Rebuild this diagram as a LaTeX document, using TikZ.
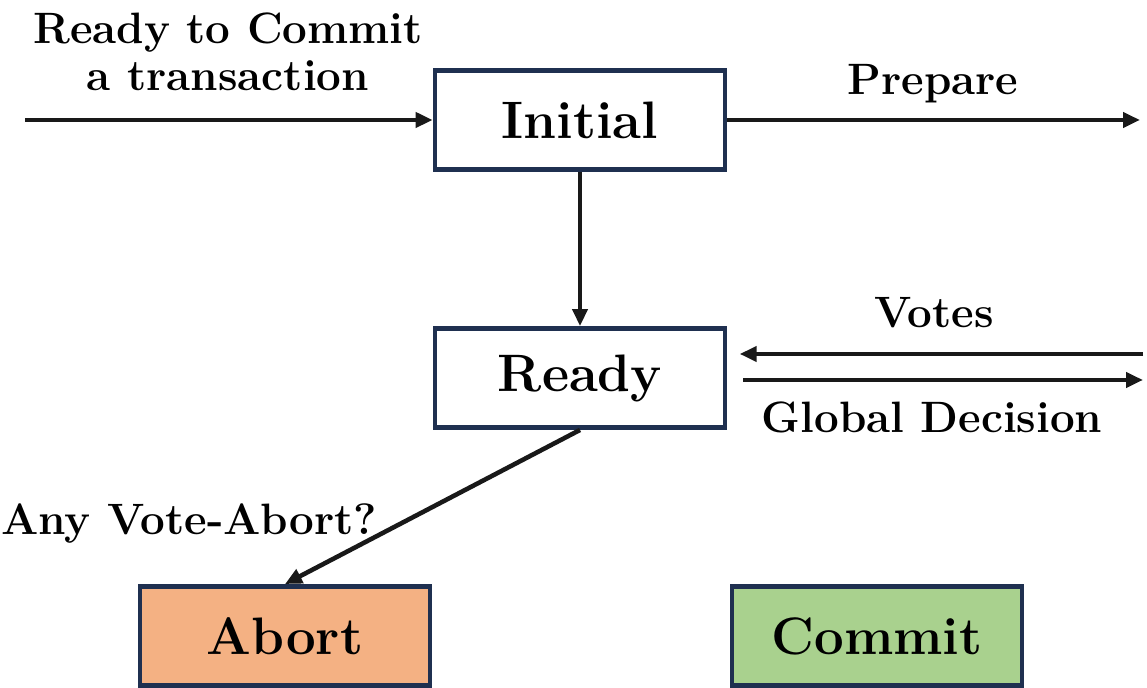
\documentclass[tikz,border=0pt]{standalone}
\usepackage{tikz}
\usetikzlibrary{arrows.meta,positioning}
\usepackage{xcolor}
\definecolor{boxline}{HTML}{1F3050}
\definecolor{abortfill}{HTML}{F4B183}
\definecolor{commitfill}{HTML}{A9D18E}

\begin{document}
\begin{tikzpicture}[x=0.02cm,y=-0.02cm,
    state/.style={draw=boxline,line width=2.8pt,minimum width=5.8cm,minimum height=1.98cm,
      font=\fontsize{30}{36}\selectfont\bfseries},
    lbl/.style={font=\fontsize{25}{29}\selectfont\bfseries},
    flow/.style={line width=2.6pt,draw=black!90,-{Triangle[length=0.34cm,width=0.3cm]}}]
  \useasboundingbox (0,0) rectangle (1147,688);
  \node[state] (init) at (580,120) {Initial};
  \node[state] (ready) at (580,378) {Ready};
  \node[state,fill=abortfill] (abort) at (285,636) {Abort};
  \node[state,fill=commitfill] (commit) at (877,636) {Commit};

  \coordinate (start) at (25,120);
  \coordinate (prep) at (1140,120);
  \coordinate (vin) at (1143,354);
  \coordinate (vout) at (1143,380);

  \draw[flow] (start) -- (init);
  \draw[flow] (init) -- (prep);
  \draw[flow] (init) -- (ready);
  \draw[flow] (vin) -- ([xshift=7]ready.east |- vin);
  \draw[flow] ([xshift=9]ready.east |- vout) -- (vout);
  \draw[flow] (ready.south) -- (abort.north);

  % labels
  \node[lbl,align=center] (rtc) at (228,52) {Ready to Commit\\[-2pt]a transaction};
  \node[lbl] (prepl) at (933,84) {Prepare};
  \node[lbl] (votes) at (934,313) {Votes};
  \node[lbl] (gdec) at (932,417) {Global Decision};
  \node[lbl,anchor=west,inner sep=0pt] (any) at (1,524) {Any Vote-Abort?};
\end{tikzpicture}
\end{document}
